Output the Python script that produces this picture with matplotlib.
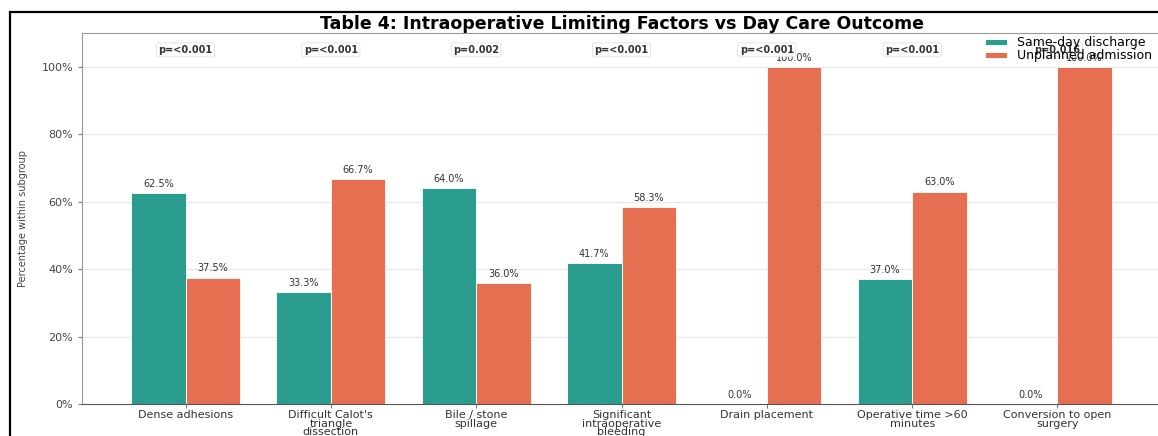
import matplotlib
matplotlib.use("Agg")
import matplotlib.pyplot as plt
from matplotlib.patches import Rectangle
import numpy as np

plt.rcParams['font.family'] = ['DejaVu Sans']

categories = [
    "Dense adhesions",
    "Difficult Calot's\ntriangle\ndissection",
    "Bile / stone\nspillage",
    "Significant\nintraoperative\nbleeding",
    "Drain placement",
    "Operative time >60\nminutes",
    "Conversion to open\nsurgery",
]
same_day = [62.5, 33.3, 64.0, 41.7, 0.0, 37.0, 0.0]
unplanned = [37.5, 66.7, 36.0, 58.3, 100.0, 63.0, 100.0]
p_values = ["p=<0.001", "p=<0.001", "p=0.002", "p=<0.001", "p=<0.001", "p=<0.001", "p=0.016"]
series_names = ["Same-day discharge", "Unplanned admission"]
yticks = [0, 20, 40, 60, 80, 100]

green = "#2a9d8f"
orange = "#e76f51"

W, H = 1158, 436
fig = plt.figure(figsize=(W / 100, H / 100), dpi=100)
ax = fig.add_axes([82 / W, (H - 404) / H, (1161 - 82) / W, (404 - 33) / H])

x = np.arange(len(categories))
w = 0.375
b1 = ax.bar(x - w / 2, same_day, w, color=green, edgecolor="white", linewidth=0.6,
            label=series_names[0])
b2 = ax.bar(x + w / 2, unplanned, w, color=orange, edgecolor="white", linewidth=0.6,
            label=series_names[1])

for bars, vals in ((b1, same_day), (b2, unplanned)):
    for r, v in zip(bars, vals):
        ax.text(r.get_x() + r.get_width() / 2, v + 1.2, f"{v:.1f}%",
                ha="center", va="bottom", fontsize=7, color="#333333")

for xi, p in zip(x, p_values):
    ax.text(xi, 105, p, ha="center", va="center", fontsize=7, fontweight="bold",
            color="#333333",
            bbox=dict(boxstyle="round,pad=0.2", facecolor="white", edgecolor="#dddddd",
                      linewidth=0.6, alpha=0.9))

ax.set_ylim(0, 110)
ax.set_yticks(yticks)
ax.set_yticklabels([f"{t}%" for t in yticks], fontsize=8, color="#444444")
ax.set_xticks(x)
ax.set_xticklabels(categories, fontsize=8, color="#333333", linespacing=0.8)
ax.set_ylabel("Percentage within subgroup", fontsize=7, color="#444444")
ax.yaxis.set_label_coords(-0.05, 0.5)

ax.grid(axis="y", color="#e6e6e6", linewidth=0.8)
ax.set_axisbelow(True)
for s in ("left", "top", "right"):
    ax.spines[s].set_color("#999999")
ax.spines["bottom"].set_color("#555555")
ax.tick_params(axis="both", colors="#777777", length=3, width=0.8)
ax.tick_params(axis="y", labelcolor="#444444")
ax.tick_params(axis="x", labelcolor="#333333", pad=1.5)

ax.set_title("Table 4: Intraoperative Limiting Factors vs Day Care Outcome",
             fontsize=12.5, fontweight="bold", pad=3)

ax.legend(loc="upper right", bbox_to_anchor=(1.0, 1.015), frameon=False, fontsize=9,
          labelspacing=0.0, handlelength=1.8, handleheight=0.4, borderaxespad=0.3)

fig.patches.append(Rectangle((10 / W, -0.1), 2.0, 1 - 12 / H + 0.1, fill=False,
                             edgecolor="black", linewidth=1.6,
                             transform=fig.transFigure, figure=fig))

fig.savefig("out.png", dpi=100)
